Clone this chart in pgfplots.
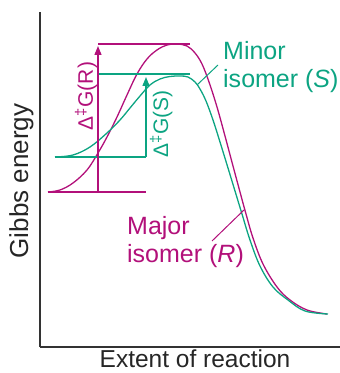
\documentclass[border=0pt]{standalone}
\usepackage{fontspec}
\setmainfont{Liberation Sans}
\usepackage{pgfplots}
\pgfplotsset{compat=1.18}
\usetikzlibrary{arrows.meta}
\definecolor{mag}{RGB}{178,16,122}
\definecolor{grn}{RGB}{12,164,130}
\begin{document}
\begin{tikzpicture}
\path[use as bounding box] (-40bp,-26bp) rectangle (300bp,347bp);
\begin{axis}[
  at={(0,0)}, anchor=south west,
  scale only axis, width=300bp, height=335bp,
  xmin=40, xmax=340, ymin=26, ymax=361,
  axis x line*=bottom, axis y line*=left,
  ticks=none,
  axis line style={black!80, line width=1.1pt},
  clip=false,
]
% Major isomer (R)
\addplot[mag, line width=1.3pt, smooth, tension=0.6] coordinates {
(48,181) (60,183) (73,190) (87,203) (98,220) (107,236) (117,256) (127,278)
(137,299) (147,314) (157,323) (167,328) (177,329) (187,327) (195,320)
(202,309) (209,291) (217,266) (225,237) (233,207) (240,181) (246,159)
(253,135) (263,109) (277,86) (290,73) (307,63) (327,59)};
% Minor isomer (S)
\addplot[grn, line width=1.3pt, smooth, tension=0.6] coordinates {
(55,216) (73,218) (90,226) (107,240) (120,253) (130,265) (140,277) (150,288)
(160,294) (170,296.5) (180,297) (188,296) (195,291) (200,284) (206,272)
(213,253) (220,231) (228,205) (235,182) (242,159) (250,133) (260,107)
(273,86) (288,73) (305,62) (328,59)};
% level lines
\addplot[mag, line width=1.3pt] coordinates {(98,329) (190,329)};
\addplot[mag, line width=1.3pt] coordinates {(48,181) (146,181)};
\addplot[grn, line width=1.3pt] coordinates {(98,299) (190,299)};
\addplot[grn, line width=1.3pt] coordinates {(55,216) (146,216)};
% arrows
\addplot[mag, line width=1.3pt, -{Triangle[length=9bp,width=7bp]}] coordinates {(98,181) (98,327)};
\addplot[grn, line width=1.3pt, -{Triangle[length=9bp,width=7bp]}] coordinates {(146,216) (146,296)};
% leaders
\addplot[mag, line width=1pt] coordinates {(212,132) (245,164)};
\addplot[grn, line width=1pt] coordinates {(197,288) (218,308)};
% labels
\node[mag, rotate=90, anchor=base, inner sep=0pt, font=\fontsize{21bp}{25bp}\selectfont] at (axis cs:93,277) {Δ\textsuperscript{‡}G(R)};
\node[grn, rotate=90, anchor=base, inner sep=0pt, font=\fontsize{21bp}{25bp}\selectfont] at (axis cs:168,249) {Δ\textsuperscript{‡}G(S)};
\node[grn, anchor=base west, inner sep=0pt, font=\fontsize{25bp}{30bp}\selectfont] at (axis cs:223,313) {Minor};
\node[grn, anchor=base west, inner sep=0pt, font=\fontsize{25bp}{30bp}\selectfont] at (axis cs:223,285) {isomer (\textit{S})};
\node[mag, anchor=base west, inner sep=0pt, font=\fontsize{25bp}{30bp}\selectfont] at (axis cs:127,138) {Major};
\node[mag, anchor=base west, inner sep=0pt, font=\fontsize{25bp}{30bp}\selectfont] at (axis cs:127,111) {isomer (\textit{R})};
\node[black!85, anchor=base, inner sep=0pt, font=\fontsize{24.5bp}{30bp}\selectfont] at (axis cs:195,5.5) {Extent of reaction};
\node[black!85, rotate=90, anchor=base, inner sep=0pt, font=\fontsize{26bp}{30bp}\selectfont] at (axis cs:28,192) {Gibbs energy};
\end{axis}
\end{tikzpicture}
\end{document}
